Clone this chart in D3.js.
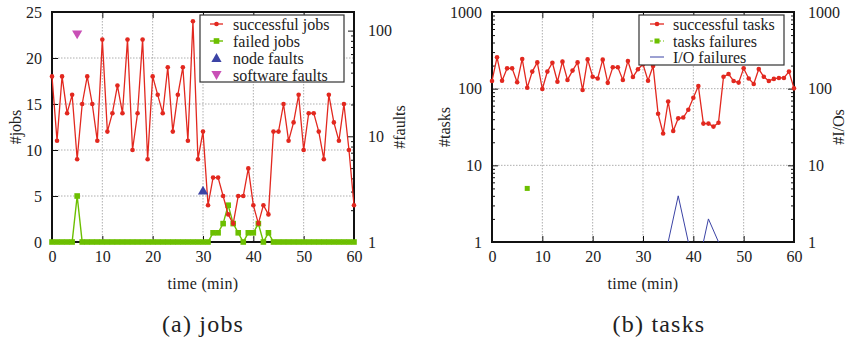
<!DOCTYPE html>
<html>
<head>
<meta charset="utf-8">
<script src="https://cdn.jsdelivr.net/npm/d3@7"></script>
<style>
body { margin: 0; background: #fff; }
svg text { font-family: "Liberation Serif", "DejaVu Serif", serif !important; }
</style>
</head>
<body>
<div id="chart"></div>
<script>
// ---- data (one sample per minute) ----
var minutes = d3.range(0, 61);

var successfulJobs = [18,11,18,14,16,9,15,18,15,11,
	22,12,14,17,14,22,10,14,22,9,
	18,16,14,19,12,16,19,11,24,9,
	12,4,7,7,5,3,2,5,5,8,
	4,2,4,3,12,12,15,11,13,16,
	10,14,14,12,9,16,13,11,15,10,4];

var failedJobs = [0,0,0,0,0,5,0,0,0,0,
	0,0,0,0,0,0,0,0,0,0,
	0,0,0,0,0,0,0,0,0,0,
	0,0,1,1,2,4,2,1,0,1,
	1,2,0,1,0,0,0,0,0,0,
	0,0,0,0,0,0,0,0,0,0,0];

var nodeFaultTimes = [30];
var nodeFaultCounts = [3];
var softwareFaultTimes = [5];
var softwareFaultCounts = [94];

var successfulTasks = [126,256,127,184,184,121,244,103,167,220,
	99,167,218,123,225,130,172,220,96,241,
	143,136,239,119,190,190,130,230,142,179,
	208,127,198,47,26,68,28,41,42,53,
	76,108,35,35,32,36,143,155,126,120,
	184,136,115,180,143,126,134,138,138,167,101];

var taskFailures = [0,0,0,0,0,0,0,5,0,0,
	0,0,0,0,0,0,0,0,0,0,
	0,0,0,0,0,0,0,0,0,0,
	0,0,0,0,0,0,0,0,0,0,
	0,0,0,0,0,0,0,0,0,0,
	0,0,0,0,0,0,0,0,0,0,0];

var ioTimes = [34,35,37,39,40,41,42,43,45,46];
var ioCounts = [0,1,4,1,0,0,1,2,1,0];

// ---- ticks / labels ----
var timeTicks = [0,10,20,30,40,50,60];
var timeGrid = [10,20,30,40,50];
var jobTicks = [0,5,10,15,20,25];
var jobGrid = [5,10,15,20];
var faultTicks = [1,10,100];
var faultMinor = [2,3,4,5,6,7,8,9,20,30,40,50,60,70,80,90];
var logTicks = [1,10,100,1000];
var logGrid = [10,100];
var logMinor = [2,3,4,5,6,7,8,9,20,30,40,50,60,70,80,90,200,300,400,500,600,700,800,900];
var jobLegend = ["successful jobs", "failed jobs", "node faults", "software faults"];
var taskLegend = ["successful tasks", "tasks failures", "I/O failures"];

var red = "#e2281f", green = "#6cbf00", blue = "#3b43a5", magenta = "#c94fb6";
var plotTop = 12, plotBottom = 242;

var svg = d3.select("#chart").append("svg")
	.attr("width", 847)
	.attr("height", 344);

function styleAxis (g, size) {
	g.attr("font-size", size);
	g.select(".domain").remove();
	g.selectAll("line").attr("stroke", "#111").attr("stroke-width", 1);
	g.selectAll("text").attr("fill", "#222");
	return g;
}

function drawPanel (x, yL, yR, opts) {
	var g = svg.append("g");
	var x0 = x.range()[0], x1 = x.range()[1];

	// dotted grid
	g.selectAll(null).data(timeGrid).enter().append("line")
		.attr("x1", d => x(d)).attr("x2", d => x(d))
		.attr("y1", plotTop).attr("y2", plotBottom)
		.attr("stroke", "#999").attr("stroke-width", 0.8).attr("stroke-dasharray", "1.5,1.5");
	g.selectAll(null).data(opts.yGrid).enter().append("line")
		.attr("x1", x0).attr("x2", x1)
		.attr("y1", d => yL(d)).attr("y2", d => yL(d))
		.attr("stroke", "#999").attr("stroke-width", 0.8).attr("stroke-dasharray", "1.5,1.5");

	// axes (ticks point inward)
	styleAxis(g.append("g").attr("transform", "translate(0," + plotBottom + ")")
		.call(d3.axisBottom(x).tickValues(timeTicks).tickSizeInner(-6).tickSizeOuter(0).tickPadding(9)), 16);
	styleAxis(g.append("g").attr("transform", "translate(0," + plotTop + ")")
		.call(d3.axisTop(x).tickValues(timeTicks).tickSizeInner(-6).tickSizeOuter(0).tickFormat("")), 16);
	styleAxis(g.append("g").attr("transform", "translate(" + x0 + ",0)")
		.call(d3.axisLeft(yL).tickValues(opts.yTicks).tickSizeInner(-6).tickSizeOuter(0).tickPadding(10).tickFormat(d3.format("d"))), 16);
	if (opts.yMinor)
		styleAxis(g.append("g").attr("transform", "translate(" + x0 + ",0)")
			.call(d3.axisLeft(yL).tickValues(opts.yMinor).tickSizeInner(-3).tickSizeOuter(0).tickFormat("")), 16);
	styleAxis(g.append("g").attr("transform", "translate(" + x1 + ",0)")
		.call(d3.axisRight(yR).tickValues(opts.y2Ticks).tickSizeInner(-6).tickSizeOuter(0).tickPadding(14).tickFormat(d3.format("d"))), 16);
	styleAxis(g.append("g").attr("transform", "translate(" + x1 + ",0)")
		.call(d3.axisRight(yR).tickValues(opts.y2Minor).tickSizeInner(-3).tickSizeOuter(0).tickFormat("")), 16);

	// border
	g.append("rect")
		.attr("x", x0).attr("y", plotTop)
		.attr("width", x1 - x0).attr("height", plotBottom - plotTop)
		.attr("fill", "none").attr("stroke", "#111").attr("stroke-width", 2);

	// titles
	var mid = (x0 + x1) / 2;
	g.append("text").attr("x", mid).attr("y", 289).attr("text-anchor", "middle")
		.attr("font-size", 16).attr("letter-spacing", 0.3).attr("fill", "#222").text("time (min)");
	g.append("text").attr("x", opts.captionX).attr("y", 332).attr("text-anchor", "middle")
		.attr("font-size", 24).attr("letter-spacing", 1.2).attr("fill", "#222").text(opts.caption);
	g.append("text").attr("transform", "translate(" + opts.yLabelX + ",127) rotate(-90)")
		.attr("text-anchor", "middle").attr("dy", ".35em")
		.attr("font-size", 16).attr("fill", "#222").text(opts.yLabel);
	g.append("text").attr("transform", "translate(" + opts.y2LabelX + ",127) rotate(-90)")
		.attr("text-anchor", "middle").attr("dy", ".35em")
		.attr("font-size", 16).attr("fill", "#222").text(opts.y2Label);

	return g;
}

function legendBox (g, bx, by, bw, bh) {
	g.append("rect").attr("x", bx).attr("y", by).attr("width", bw).attr("height", bh)
		.attr("fill", "#fff").attr("stroke", "#333").attr("stroke-width", 1.2);
}

function legendText (g, tx, ty, label) {
	g.append("text").attr("x", tx).attr("y", ty).attr("dy", ".35em")
		.attr("font-size", 16).attr("fill", "#222").text(label);
}

// ================= (a) jobs =================
var xJ = d3.scaleLinear().domain([0, 60]).range([52, 354]);
var yJ = d3.scaleLinear().domain([0, 25]).range([plotBottom, plotTop]);
var yF = d3.scaleLog().domain([1, 150]).range([plotBottom, plotTop]);

var gJ = drawPanel(xJ, yJ, yF, {
	yGrid: jobGrid, yTicks: jobTicks, y2Ticks: faultTicks, y2Minor: faultMinor,
	yLabel: "#jobs", y2Label: "#faults", yLabelX: 15, y2LabelX: 399,
	caption: "(a) jobs", captionX: 203
});

var jobRows = minutes.map((t, i) => ({t: t, ok: successfulJobs[i], failed: failedJobs[i]}));

gJ.append("path").datum(jobRows)
	.attr("fill", "none").attr("stroke", green).attr("stroke-width", 1.4)
	.attr("d", d3.line().x(d => xJ(d.t)).y(d => yJ(d.failed)));
gJ.selectAll(null).data(jobRows).enter().append("rect")
	.attr("x", d => xJ(d.t) - 2.8).attr("y", d => yJ(d.failed) - 2.8)
	.attr("width", 5.6).attr("height", 5.6).attr("fill", green);

gJ.append("path").datum(jobRows)
	.attr("fill", "none").attr("stroke", red).attr("stroke-width", 1.3)
	.attr("d", d3.line().x(d => xJ(d.t)).y(d => yJ(d.ok)));
gJ.selectAll(null).data(jobRows).enter().append("circle")
	.attr("cx", d => xJ(d.t)).attr("cy", d => yJ(d.ok)).attr("r", 2.3).attr("fill", red);

var triUp = d3.symbol().type(d3.symbolTriangle).size(45);
gJ.selectAll(null).data(nodeFaultTimes).enter().append("path")
	.attr("d", triUp)
	.attr("transform", (d, i) => "translate(" + xJ(d) + "," + yF(nodeFaultCounts[i]) + ")")
	.attr("fill", blue);
gJ.selectAll(null).data(softwareFaultTimes).enter().append("path")
	.attr("d", triUp)
	.attr("transform", (d, i) => "translate(" + xJ(d) + "," + yF(softwareFaultCounts[i]) + ") rotate(180)")
	.attr("fill", magenta);

// legend (a)
legendBox(gJ, 200, 15, 144, 67);
var legJ = [24, 41, 58, 75];
gJ.append("line").attr("x1", 210).attr("x2", 223).attr("y1", legJ[0]).attr("y2", legJ[0]).attr("stroke", red).attr("stroke-width", 1.3);
gJ.append("circle").attr("cx", 216.5).attr("cy", legJ[0]).attr("r", 2.3).attr("fill", red);
gJ.append("line").attr("x1", 210).attr("x2", 223).attr("y1", legJ[1]).attr("y2", legJ[1]).attr("stroke", green).attr("stroke-width", 1.4);
gJ.append("rect").attr("x", 213.7).attr("y", legJ[1] - 2.8).attr("width", 5.6).attr("height", 5.6).attr("fill", green);
gJ.append("path").attr("d", triUp).attr("transform", "translate(216.5," + (legJ[2] + 1) + ")").attr("fill", blue);
gJ.append("path").attr("d", triUp).attr("transform", "translate(216.5," + (legJ[3] - 1) + ") rotate(180)").attr("fill", magenta);
jobLegend.forEach((label, i) => legendText(gJ, 233, legJ[i], label));

// ================= (b) tasks =================
var xT = d3.scaleLinear().domain([0, 60]).range([492, 794]);
var yT = d3.scaleLog().domain([1, 1000]).range([plotBottom, plotTop]);
var yIO = d3.scaleLog().domain([1, 1000]).range([plotBottom, plotTop]);

var gT = drawPanel(xT, yT, yIO, {
	yGrid: logGrid, yTicks: logTicks, yMinor: logMinor, y2Ticks: logTicks, y2Minor: logMinor,
	yLabel: "#tasks", y2Label: "#I/Os", yLabelX: 444, y2LabelX: 838,
	caption: "(b) tasks", captionX: 659
});

var taskRows = minutes.map((t, i) => ({t: t, ok: successfulTasks[i], failed: taskFailures[i]}));
var ioRows = ioTimes.map((t, i) => ({t: t, v: ioCounts[i]}));

gT.append("path").datum(ioRows)
	.attr("fill", "none").attr("stroke", blue).attr("stroke-width", 1)
	.attr("d", d3.line().defined(d => d.v > 0).x(d => xT(d.t)).y(d => yIO(d.v)));

gT.append("path").datum(taskRows)
	.attr("fill", "none").attr("stroke", green).attr("stroke-width", 1.2).attr("stroke-dasharray", "4,2,1,2")
	.attr("d", d3.line().defined(d => d.failed > 0).x(d => xT(d.t)).y(d => yT(d.failed)));
gT.selectAll(null).data(taskRows.filter(d => d.failed > 0)).enter().append("rect")
	.attr("x", d => xT(d.t) - 2.5).attr("y", d => yT(d.failed) - 2.5)
	.attr("width", 5).attr("height", 5).attr("fill", green);

gT.append("path").datum(taskRows)
	.attr("fill", "none").attr("stroke", red).attr("stroke-width", 1.3)
	.attr("d", d3.line().x(d => xT(d.t)).y(d => yT(d.ok)));
gT.selectAll(null).data(taskRows).enter().append("circle")
	.attr("cx", d => xT(d.t)).attr("cy", d => yT(d.ok)).attr("r", 2.3).attr("fill", red);

// legend (b)
legendBox(gT, 639, 15, 145, 50);
var legT = [24, 41, 57];
gT.append("line").attr("x1", 650).attr("x2", 664).attr("y1", legT[0]).attr("y2", legT[0]).attr("stroke", red).attr("stroke-width", 1.3);
gT.append("circle").attr("cx", 657).attr("cy", legT[0]).attr("r", 2.3).attr("fill", red);
gT.append("line").attr("x1", 650).attr("x2", 664).attr("y1", legT[1]).attr("y2", legT[1]).attr("stroke", green).attr("stroke-width", 1.2).attr("stroke-dasharray", "3,2,1,2");
gT.append("rect").attr("x", 654.5).attr("y", legT[1] - 2.5).attr("width", 5).attr("height", 5).attr("fill", green);
gT.append("line").attr("x1", 650).attr("x2", 664).attr("y1", legT[2]).attr("y2", legT[2]).attr("stroke", blue).attr("stroke-width", 1);
taskLegend.forEach((label, i) => legendText(gT, 673, legT[i], label));
</script>
</body>
</html>
